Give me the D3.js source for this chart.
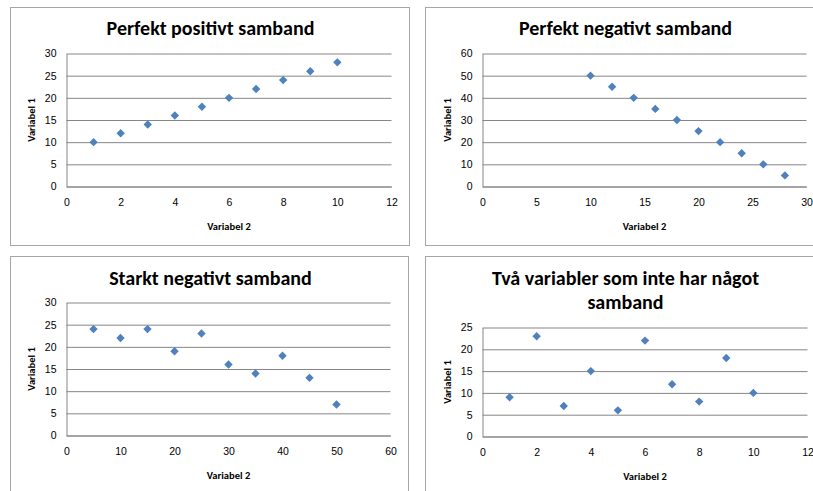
<!DOCTYPE html>
<html>
<head>
<meta charset="utf-8">
<script src="https://cdnjs.cloudflare.com/ajax/libs/d3/7.8.5/d3.min.js"></script>
<style>
  body { margin: 0; background: #fff; }
  svg { font-family: Carlito, Lato, "Open Sans", sans-serif; }
</style>
</head>
<body>
<div id="chart"></div>
<script>
// Data
const titles = [
    ["Perfekt positivt samband"],
    ["Perfekt negativt samband"],
    ["Starkt negativt samband"],
    ["Två variabler som inte har något", "samband"]
];

const x1 = [1, 2, 3, 4, 5, 6, 7, 8, 9, 10];
const y1 = [10, 12, 14, 16, 18, 20, 22, 24, 26, 28];

const x2 = [10, 12, 14, 16, 18, 20, 22, 24, 26, 28];
const y2 = [50, 45, 40, 35, 30, 25, 20, 15, 10, 5];

const x3 = [5, 10, 15, 20, 25, 30, 35, 40, 45, 50];
const y3 = [24, 22, 24, 19, 23, 16, 14, 18, 13, 7];

const x4 = [1, 2, 3, 4, 5, 6, 7, 8, 9, 10];
const y4 = [9, 23, 7, 15, 6, 22, 12, 8, 18, 10];

// Tick labels
const xTicks1 = [0, 2, 4, 6, 8, 10, 12];
const yTicks1 = [0, 5, 10, 15, 20, 25, 30];
const xTicks2 = [0, 5, 10, 15, 20, 25, 30];
const yTicks2 = [0, 10, 20, 30, 40, 50, 60];
const xTicks3 = [0, 10, 20, 30, 40, 50, 60];
const yTicks3 = [0, 5, 10, 15, 20, 25, 30];
const xTicks4 = [0, 2, 4, 6, 8, 10, 12];
const yTicks4 = [0, 5, 10, 15, 20, 25];

const xLabel = "Variabel 2";
const yLabel = "Variabel 1";

const series = [
    { xs: x1, ys: y1, xt: xTicks1, yt: yTicks1 },
    { xs: x2, ys: y2, xt: xTicks2, yt: yTicks2 },
    { xs: x3, ys: y3, xt: xTicks3, yt: yTicks3 },
    { xs: x4, ys: y4, xt: xTicks4, yt: yTicks4 }
];

// Layout of each panel (frame + plot area)
const layout = [
    { fx: 10.5, fy: 7.5, fw: 399, fh: 238, l: 66.5, r: 391.5, t: 53.5, b: 186.5, ty: 28 },
    { fx: 425.5, fy: 7.5, fw: 400, fh: 238, l: 482.5, r: 806.5, t: 53.5, b: 186.5, ty: 28 },
    { fx: 10.5, fy: 256.5, fw: 398, fh: 250, l: 66.5, r: 390.5, t: 302.5, b: 435.5, ty: 278 },
    { fx: 425.5, fy: 256.5, fw: 400, fh: 250, l: 482.5, r: 807.5, t: 327.5, b: 436.5, ty: 278 }
];

const markerColor = "#4f81bd";
const lineColor = "#868686";

const svg = d3.select("#chart")
    .append("svg")
    .attr("width", 813)
    .attr("height", 491);

const diamond = d3.symbol().type(d3.symbolDiamond2).size(45);

series.forEach((s, i) => {
    const L = layout[i];
    const g = svg.append("g");

    // Chart frame
    g.append("rect")
        .attr("x", L.fx)
        .attr("y", L.fy)
        .attr("width", L.fw)
        .attr("height", L.fh)
        .attr("fill", "#fff")
        .attr("stroke", "#a6a6a6");

    const x = d3.scaleLinear()
        .domain([s.xt[0], s.xt[s.xt.length - 1]])
        .range([L.l, L.r]);

    const y = d3.scaleLinear()
        .domain([s.yt[0], s.yt[s.yt.length - 1]])
        .range([L.b, L.t]);

    // Horizontal gridlines
    g.append("g")
        .attr("transform", `translate(${L.l},0)`)
        .call(d3.axisLeft(y).tickValues(s.yt).tickSize(-(L.r - L.l)).tickFormat(""))
        .call(a => a.select(".domain").remove())
        .selectAll("line")
        .attr("stroke", lineColor);

    // Y axis
    g.append("g")
        .attr("transform", `translate(${L.l},0)`)
        .call(d3.axisLeft(y).tickValues(s.yt).tickSize(0).tickPadding(10))
        .call(a => a.select(".domain").attr("stroke", lineColor))
        .selectAll("text")
        .attr("fill", "#000")
        .style("font-size", "10.5px");

    // X axis
    g.append("g")
        .attr("transform", `translate(0,${L.b})`)
        .call(d3.axisBottom(x).tickValues(s.xt).tickSize(0).tickPadding(12))
        .call(a => a.select(".domain").attr("stroke", lineColor))
        .selectAll("text")
        .attr("fill", "#000")
        .style("font-size", "10.5px");

    // Title
    const title = g.append("text")
        .attr("x", L.fx + 200)
        .attr("y", L.ty)
        .attr("text-anchor", "middle")
        .attr("dominant-baseline", "central")
        .style("font-size", "20px")
        .style("font-weight", "bold");
    titles[i].forEach((line, k) => {
        title.append("tspan")
            .attr("x", L.fx + 200)
            .attr("dy", k === 0 ? 0 : 23.5)
            .text(line);
    });

    // Axis titles
    g.append("text")
        .attr("x", (L.l + L.r) / 2)
        .attr("y", L.b + 40)
        .attr("text-anchor", "middle")
        .attr("dominant-baseline", "central")
        .style("font-size", "10.5px")
        .style("font-weight", "bold")
        .text(xLabel);

    g.append("text")
        .attr("transform", `translate(${L.l - 35},${(L.t + L.b) / 2}) rotate(-90)`)
        .attr("text-anchor", "middle")
        .attr("dominant-baseline", "central")
        .style("font-size", "10.5px")
        .style("font-weight", "bold")
        .text(yLabel);

    // Points
    g.selectAll("path.pt")
        .data(s.xs.map((v, k) => [v, s.ys[k]]))
        .enter()
        .append("path")
        .attr("class", "pt")
        .attr("d", diamond)
        .attr("transform", d => `translate(${x(d[0])},${y(d[1])})`)
        .attr("fill", markerColor);
});
</script>
</body>
</html>
